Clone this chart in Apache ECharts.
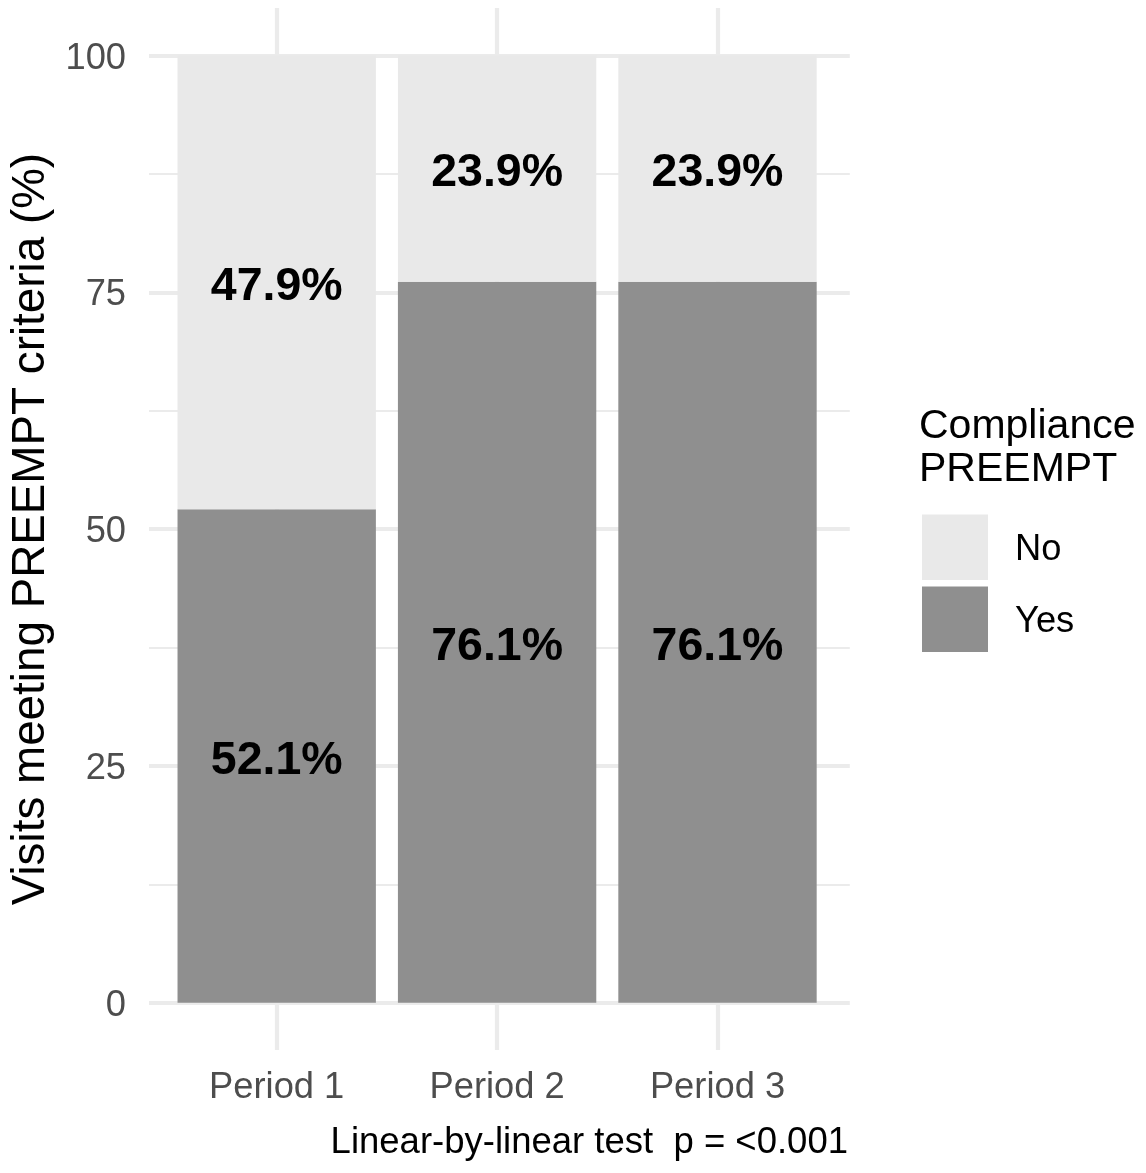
<!DOCTYPE html>
<html>
<head>
<meta charset="utf-8">
<script src="https://cdn.jsdelivr.net/npm/echarts@6/dist/echarts.min.js"></script>
<style>
html,body{margin:0;padding:0;background:#fff;}
#chart{width:1146px;height:1173px;}
</style>
</head>
<body>
<div id="chart"></div>
<script>
const periods = ['Period 1', 'Period 2', 'Period 3'];
const yesValues = [52.1, 76.1, 76.1];
const noValues = [47.9, 23.9, 23.9];
const yTicks = [0, 25, 50, 75, 100];
const legendTitle = 'Compliance\nPREEMPT';
const yTitle = 'Visits meeting PREEMPT criteria (%)';
const caption = 'Linear-by-linear test  p = <0.001';

const FONT = 'Liberation Sans, Arial, Helvetica, sans-serif';
const GRID_COLOR = '#EBEBEB';
const TICK_SIZE = 36.3;
const TITLE_SIZE = 45.8;

const chart = echarts.init(document.getElementById('chart'), null, {renderer: 'canvas'});

const labelStyle = {
  show: true,
  position: 'inside',
  offset: [0, 5],
  fontFamily: FONT,
  fontWeight: 'bold',
  fontSize: 46.5,
  color: '#000',
  formatter: p => Number(p.value).toFixed(1) + '%'
};

const option = {
  backgroundColor: '#ffffff',
  animation: false,
  textStyle: {fontFamily: FONT},
  title: {
    text: legendTitle,
    left: 919,
    top: 405,
    padding: 0,
    textStyle: {fontFamily: FONT, fontSize: 41, fontWeight: 'normal', color: '#000', lineHeight: 43}
  },
  legend: {
    data: ['No', 'Yes'],
    orient: 'vertical',
    left: 922,
    top: 514.5,
    padding: 0,
    itemWidth: 66,
    itemHeight: 65.5,
    itemGap: 6.5,
    icon: 'rect',
    selectedMode: false,
    formatter: name => '{t|' + name + '}',
    textStyle: {
      fontFamily: FONT, fontSize: TICK_SIZE, color: '#000',
      rich: {t: {fontFamily: FONT, fontSize: TICK_SIZE, color: '#000', padding: [6, 0, 0, 22]}}
    }
  },
  grid: [
    {left: 144.5, width: 705.3, top: 55.5, height: 947.2, containLabel: false},
    {left: 166.5, width: 661.2, top: 8.1, height: 1042, containLabel: false},
    {left: 56.3, width: 881.6, top: 8.1, height: 1042, containLabel: false}
  ],
  xAxis: [
    {gridIndex: 0, type: 'value', min: 0, max: 1, show: false},
    {
      gridIndex: 1, type: 'category', data: periods,
      axisLine: {show: false}, axisTick: {show: false}, splitLine: {show: false},
      axisLabel: {show: true, margin: 20, fontFamily: FONT, fontSize: TICK_SIZE, color: '#4D4D4D'}
    },
    {
      gridIndex: 2, type: 'value', min: 0, max: 4, interval: 1,
      axisLine: {show: false}, axisTick: {show: false}, axisLabel: {show: false},
      splitLine: {show: true, showMinLine: false, showMaxLine: false, lineStyle: {color: GRID_COLOR, width: 4.2}}
    }
  ],
  yAxis: [
    {
      gridIndex: 0, type: 'value', min: 0, max: 100, interval: 25,
      axisLine: {show: false}, axisTick: {show: false},
      axisLabel: {
        margin: 23, fontFamily: FONT, fontSize: TICK_SIZE, color: '#4D4D4D',
        formatter: v => yTicks.indexOf(v) >= 0 ? '{v|' + v + '}' : '',
        rich: {v: {fontFamily: FONT, fontSize: TICK_SIZE, color: '#4D4D4D', padding: [6, 0, 0, 0]}}
      },
      splitLine: {show: true, lineStyle: {color: GRID_COLOR, width: 4.2}},
      minorTick: {show: false, splitNumber: 2},
      minorSplitLine: {show: true, lineStyle: {color: GRID_COLOR, width: 2.1}},
      name: yTitle,
      nameLocation: 'middle',
      nameRotate: 90,
      nameGap: 95,
      nameTextStyle: {fontFamily: FONT, fontSize: TITLE_SIZE, color: '#000'}
    },
    {gridIndex: 1, type: 'value', min: -5, max: 105, show: false, splitLine: {show: false}},
    {gridIndex: 2, type: 'value', min: 0, max: 1, show: false, splitLine: {show: false}}
  ],
  graphic: [
    {
      type: 'text',
      right: 1146 - 848,
      top: 1124,
      style: {text: caption, fontFamily: FONT, fontSize: 36.5, fill: '#000', textAlign: 'right'}
    }
  ],
  series: [
    {
      name: 'Yes', type: 'bar', xAxisIndex: 1, yAxisIndex: 1, stack: 'total',
      barWidth: '90%', data: yesValues,
      itemStyle: {color: '#8F8F8F', borderWidth: 0}, label: labelStyle
    },
    {
      name: 'No', type: 'bar', xAxisIndex: 1, yAxisIndex: 1, stack: 'total',
      barWidth: '90%', data: noValues,
      itemStyle: {color: '#E9E9E9', borderWidth: 0}, label: labelStyle
    }
  ]
};
chart.setOption(option);
</script>
</body>
</html>
